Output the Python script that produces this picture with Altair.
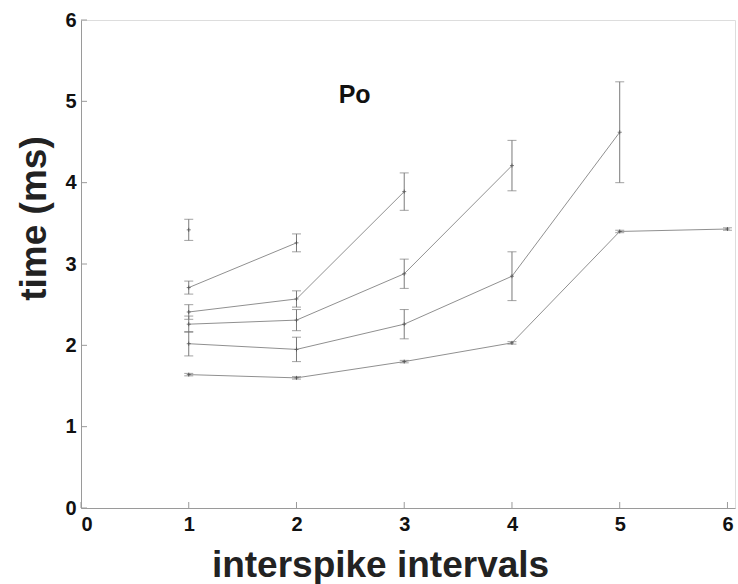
import altair as alt
import pandas as pd

# data
series_names = ["s1", "s2", "s3", "s4", "s5", "s6"]
s1_x = [1, 2, 3, 4, 5, 6]
s1_y = [1.64, 1.60, 1.80, 2.03, 3.40, 3.43]
s1_e = [0.015, 0.015, 0.015, 0.015, 0.015, 0.015]
s2_x = [1, 2, 3, 4, 5]
s2_y = [2.02, 1.95, 2.26, 2.85, 4.62]
s2_e = [0.15, 0.15, 0.18, 0.30, 0.62]
s3_x = [1, 2, 3, 4]
s3_y = [2.26, 2.31, 2.88, 4.21]
s3_e = [0.10, 0.13, 0.18, 0.31]
s4_x = [1, 2, 3]
s4_y = [2.41, 2.57, 3.89]
s4_e = [0.09, 0.10, 0.23]
s5_x = [1, 2]
s5_y = [2.71, 3.26]
s5_e = [0.08, 0.11]
s6_x = [1]
s6_y = [3.42]
s6_e = [0.13]

x_ticks = [0, 1, 2, 3, 4, 5, 6]
y_ticks = [0, 1, 2, 3, 4, 5, 6]

rows = []
for name, xs, ys, es in zip(series_names,
                            [s1_x, s2_x, s3_x, s4_x, s5_x, s6_x],
                            [s1_y, s2_y, s3_y, s4_y, s5_y, s6_y],
                            [s1_e, s2_e, s3_e, s4_e, s5_e, s6_e]):
    for x, y, e in zip(xs, ys, es):
        rows.append({"series": name, "x": x, "y": y, "lo": y - e, "hi": y + e})
df = pd.DataFrame(rows)

FONT = "Liberation Sans"
AX = "#9a9a9a"

xsc = alt.Scale(domain=[0, 6.07], nice=False, zero=False)
ysc = alt.Scale(domain=[0, 6], nice=False)

base = alt.Chart(df)

lines = base.mark_line(color="#909090", strokeWidth=1).encode(
    x=alt.X("x:Q", scale=xsc,
            axis=alt.Axis(title="interspike intervals", values=x_ticks, format="d",
                          ticks=False, grid=False, domainColor=AX,
                          labelFont=FONT, labelFontSize=20, labelFontWeight="bold",
                          labelColor="#111", labelPadding=6,
                          titleFont=FONT, titleFontSize=37, titleFontWeight="bold",
                          titleColor="#222", titleX=299, titleY=39)),
    y=alt.Y("y:Q", scale=ysc,
            axis=alt.Axis(title="time (ms)", values=y_ticks, format="d",
                          ticks=False, grid=False, domainColor=AX,
                          labelFont=FONT, labelFontSize=20, labelFontWeight="bold",
                          labelColor="#111", labelPadding=5,
                          titleFont=FONT, titleFontSize=37, titleFontWeight="bold",
                          titleColor="#222", titleX=-28, titleY=198)),
    detail="series:N",
)

err = base.mark_rule(color="#7a7a7a", strokeWidth=1).encode(
    x="x:Q", y="lo:Q", y2="hi:Q")
cap_lo = base.mark_tick(color="#7a7a7a", size=9, thickness=1, orient="horizontal").encode(
    x="x:Q", y="lo:Q")
cap_hi = base.mark_tick(color="#7a7a7a", size=9, thickness=1, orient="horizontal").encode(
    x="x:Q", y="hi:Q")
pts = base.mark_point(shape="M-1,0H1M0,-1V1", size=16, color="#444",
                      strokeWidth=1, filled=False).encode(x="x:Q", y="y:Q")

ticks_df = pd.DataFrame({"t": x_ticks})
xt = alt.Chart(ticks_df).mark_rule(color=AX, strokeWidth=1).encode(
    x=alt.X("t:Q", scale=xsc), y=alt.value(488), y2=alt.value(482))
yt = alt.Chart(pd.DataFrame({"t": y_ticks})).mark_rule(color=AX, strokeWidth=1).encode(
    y=alt.Y("t:Q", scale=ysc), x=alt.value(0), x2=alt.value(6))

title_df = pd.DataFrame({"label": ["Po"], "x": [2.54], "y": [5.08]})
title = alt.Chart(title_df).mark_text(font=FONT, fontSize=25, fontWeight="bold",
                                      color="#111").encode(
    x=alt.X("x:Q", scale=xsc), y=alt.Y("y:Q", scale=ysc), text="label:N")

chart = alt.layer(lines, err, cap_lo, cap_hi, pts, xt, yt, title).properties(
    width=654, height=488,
    autosize=alt.AutoSizeParams(type="none"),
    padding={"left": 81, "top": 20, "right": 3, "bottom": 76},
).configure_view(stroke=None).configure(background="white")

chart.save("out.html", embed_options={"renderer": "svg", "actions": False})
